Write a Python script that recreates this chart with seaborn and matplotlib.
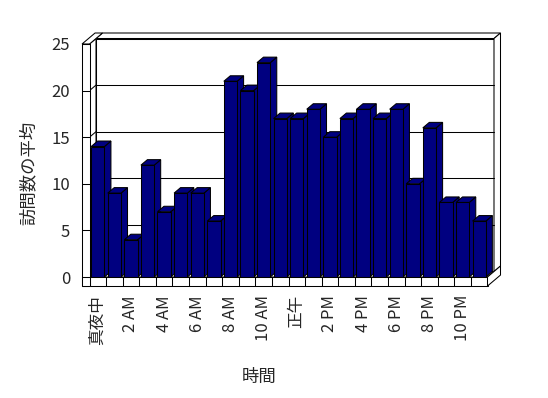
import matplotlib
matplotlib.use('Agg')
import matplotlib.pyplot as plt
import seaborn as sns
import pandas as pd
from matplotlib.patches import Polygon

# ---- data ----
hours = [str(h) for h in range(24)]
visits = [14, 9, 4, 12, 7, 9, 9, 6, 21, 20, 23, 17, 17, 18, 15, 17, 18, 17, 18, 10, 16, 8, 8, 6]
tick_positions = list(range(0, 24, 2))
tick_labels = ['真夜中', '2 AM', '4 AM', '6 AM', '8 AM', '10 AM',
               '正午', '2 PM', '4 PM', '6 PM', '8 PM', '10 PM']
y_ticks = [0, 5, 10, 15, 20, 25]
x_title = '時間'
y_title = '訪問数の平均'

# ---- style ----
NAVY = '#000080'
LW = 0.75
DX, DY = 0.392, 0.59      # depth offset (data units)
WALL = 0.45               # left wall thickness (x units)
FLOOR = 0.97              # floor slab thickness (y units)

sns.set_theme(style='white')
plt.rcParams['font.family'] = ['Noto Sans CJK JP', 'DejaVu Sans']

fig = plt.figure(figsize=(5.48, 3.98), dpi=100)
fig.patch.set_facecolor('white')
ax = fig.add_axes([89.5 / 548, 121 / 398, 398 / 548, 233 / 398])

df = pd.DataFrame({'hour': hours, 'visits': visits})
sns.barplot(data=df, x='hour', y='visits', order=hours, color=NAVY, saturation=1,
            width=0.8, edgecolor='black', linewidth=LW, ax=ax, zorder=3)

x0, x1 = -0.5, len(hours) - 0.5
ymax = y_ticks[-1]


def poly(pts, z, fc='white'):
    ax.add_patch(Polygon(pts, closed=True, facecolor=fc, edgecolor='black',
                         linewidth=LW, zorder=z, clip_on=False))


# back wall (front face, top, right side)
poly([(x0 + DX, DY), (x1 + DX, DY), (x1 + DX, ymax + DY), (x0 + DX, ymax + DY)], 0.2)
poly([(x0 + DX, ymax + DY), (x1 + DX, ymax + DY), (x1 + 2 * DX, ymax + 2 * DY),
      (x0 + 2 * DX, ymax + 2 * DY)], 0.2)
poly([(x1 + DX, DY), (x1 + 2 * DX, 2 * DY), (x1 + 2 * DX, ymax + 2 * DY),
      (x1 + DX, ymax + DY)], 0.2)
# left wall inner face and top
poly([(x0, 0), (x0 + DX, DY), (x0 + DX, ymax + DY), (x0, ymax)], 0.3)
poly([(x0 - WALL, ymax), (x0, ymax), (x0 + 2 * DX, ymax + 2 * DY),
      (x0 - WALL + 2 * DX, ymax + 2 * DY)], 0.3)
# floor top
poly([(x0, 0), (x1, 0), (x1 + DX, DY), (x0 + DX, DY)], 0.4)

# gridlines
for v in y_ticks[1:-1]:
    ax.plot([x0 + DX, x1 + DX], [v + DY, v + DY], color='black', lw=LW, zorder=1,
            clip_on=False)
    ax.plot([x0, x0 + DX], [v, v + DY], color='black', lw=LW, zorder=1, clip_on=False)

# 3D sides of the bars
for i, p in enumerate(ax.patches[:len(hours)]):
    bx0 = p.get_x()
    bx1 = bx0 + p.get_width()
    h = p.get_height()
    p.set_zorder(3 + 2 * i + 1)
    poly([(bx1, 0), (bx1, h), (bx1 + DX, h + DY), (bx1 + DX, DY)], 3 + 2 * i, NAVY)
    poly([(bx0, h), (bx1, h), (bx1 + DX, h + DY), (bx0 + DX, h + DY)], 3 + 2 * i, NAVY)

# floor front face and right side
poly([(x0 - WALL, -FLOOR), (x1, -FLOOR), (x1, 0), (x0 - WALL, 0)], 100)
poly([(x1, -FLOOR), (x1 + 2 * DX, -FLOOR + 2 * DY), (x1 + 2 * DX, 2 * DY), (x1, 0)], 100)
for k in range(len(hours)):
    ax.plot([x0 + k, x0 + k], [-FLOOR, 0], color='black', lw=LW, zorder=101,
            clip_on=False)
# left wall front face
poly([(x0 - WALL, -FLOOR), (x0, -FLOOR), (x0, ymax), (x0 - WALL, ymax)], 102)
for v in y_ticks:
    ax.plot([x0 - WALL, x0], [v, v], color='black', lw=LW, zorder=103, clip_on=False)

ax.set_xlim(x0, x1)
ax.set_ylim(0, ymax)
ax.set_xticks(tick_positions)
ax.set_xticklabels(tick_labels, rotation=90, fontsize=12, va='top', ha='center')
ax.set_yticks(y_ticks)
ax.set_yticklabels([str(t) for t in y_ticks], fontsize=12)
ax.tick_params(axis='x', length=0, pad=13)
ax.tick_params(axis='y', length=0, pad=14)
ax.set_xlabel('')
ax.set_ylabel('')
ax.grid(False)
ax.set_facecolor('none')
for s in ax.spines.values():
    s.set_visible(False)

fig.text(259 / 548, 1 - 377 / 398, x_title, fontsize=12.5, ha='center', va='center')
fig.text(29 / 548, 1 - 173 / 398, y_title, fontsize=12.5, ha='center', va='center',
         rotation=90)

fig.savefig('out.png', dpi=100, facecolor='white')
